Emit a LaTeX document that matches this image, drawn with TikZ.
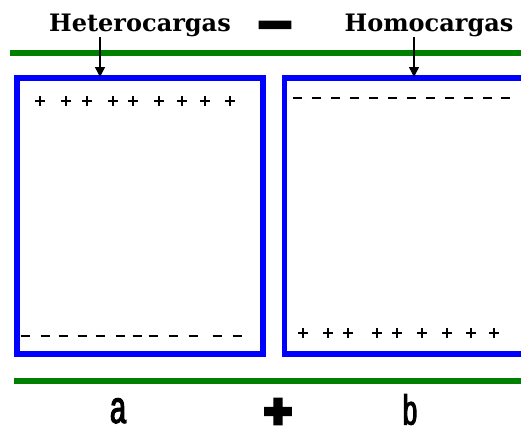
\documentclass[tikz,border=0pt]{standalone}
\usepackage{fontspec}
\usepackage{tikz}
\usetikzlibrary{positioning, arrows.meta, calc}
\newfontfamily\titlefont{DejaVu Serif}
\newfontfamily\minusfont[FakeBold=6]{DejaVu Sans Bold}
\newfontfamily\plusfont[FakeBold=14]{DejaVu Sans Bold}
\newfontfamily\narrowfont[FakeStretch=0.62, FakeBold=2.5]{Liberation Sans}
\definecolor{platefill}{RGB}{0,128,0}
\definecolor{boxblue}{RGB}{0,0,255}

\begin{document}
\begin{tikzpicture}[
  x=1pt, y=-1pt,
  plate/.style={draw=platefill, line width=6pt},
  dielbox/.style={draw=boxblue, line width=5.5pt},
  title/.style={font=\titlefont\bfseries\fontsize{24}{28}\selectfont, anchor=base, inner sep=0pt},
  letter/.style={font=\narrowfont\fontsize{46}{50}\selectfont, anchor=base, inner sep=0pt},
  pointer/.style={-{Triangle[length=10pt, width=10pt]}, line width=1.4pt}
]
\useasboundingbox (0,0) rectangle (521,432);

% plates
\draw[plate] (10,53) -- (521,53);
\draw[plate] (14,381) -- (521,381);

% dielectric blocks
\draw[dielbox] (17,78) rectangle (263,354);
\draw[dielbox] (521,78) -- (284.5,78) -- (284.5,354) -- (521,354);

% labels on top
\node[title] (hetero) at (140,31) {Heterocargas};
\node[title] (homo) at (429,31) {Homocargas};
\node[font=\minusfont\fontsize{48}{50}\selectfont, inner sep=0pt] (minus) at (275,31) {−};

\coordinate (tipA) at (100,77);
\coordinate (tipB) at (414,77);
\draw[pointer] (hetero.south -| tipA) -- (tipA);
\draw[pointer] (homo.south -| tipB) -- (tipB);

% charges
\def\pch#1#2{%
  \draw[line width=1.5pt] (#1-5,#2) -- (#1+5,#2) (#1,#2-5) -- (#1,#2+5);
}
\def\nch#1#2{%
  \draw[line width=1.5pt] (#1-4.5,#2) -- (#1+4.5,#2);
}
\foreach \x in {40,66,87,113,133,159,182,205,230} {\pch{\x}{101}}
\foreach \x in {25,45,63,82,100,120,137,153,173,193,217,237} {\nch{\x}{336}}
\foreach \x in {297,316,335,354,373,392,411,430,449,468,487,505} {\nch{\x}{98}}
\foreach \x in {303,328,348,377,397,422,447,471,494} {\pch{\x}{333}}

% bottom labels
\node[letter] (la) at (118,423) {a};
\node[letter, font=\narrowfont\fontsize{42}{46}\selectfont] (lb) at (410,424.5) {b};
\node[font=\plusfont\fontsize{36}{40}\selectfont, inner sep=0pt] (plus) at (278,411.5) {+};
\end{tikzpicture}
\end{document}
